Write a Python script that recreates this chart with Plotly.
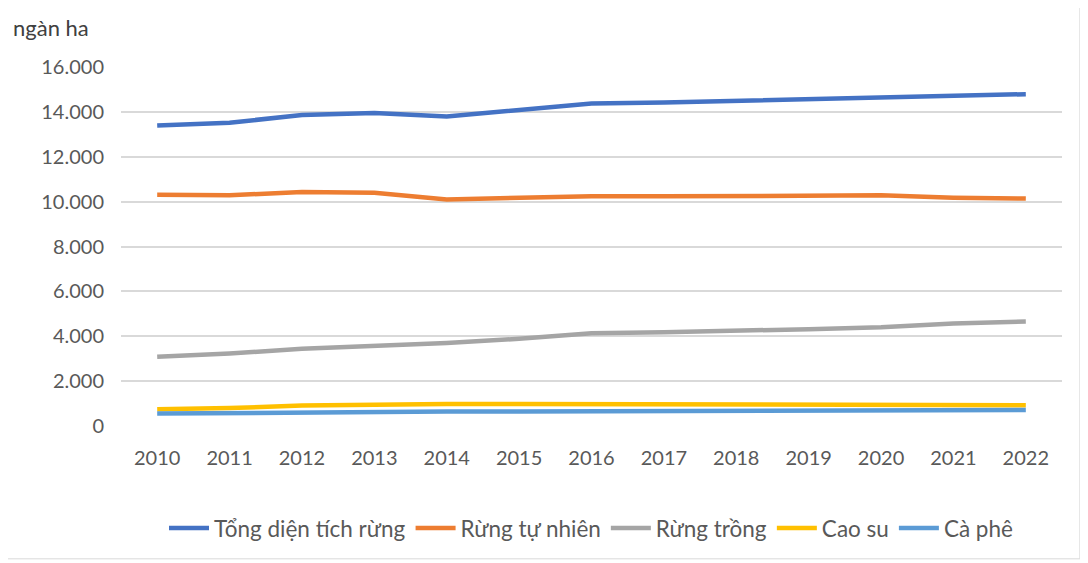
import plotly.graph_objects as go

years = ["2010", "2011", "2012", "2013", "2014", "2015", "2016", "2017", "2018", "2019", "2020", "2021", "2022"]
tong = [13388, 13515, 13862, 13954, 13797, 14062, 14377, 14416, 14491, 14609, 14677, 14745, 14790]
tu_nhien = [10305, 10286, 10424, 10398, 10100, 10175, 10242, 10236, 10256, 10292, 10279, 10172, 10134]
rung_trong = [3083, 3229, 3438, 3556, 3697, 3887, 4135, 4180, 4235, 4317, 4398, 4573, 4656]
cao_su = [748, 801, 910, 958, 978, 985, 973, 972, 962, 940, 933, 930, 920]
ca_phe = [555, 586, 623, 637, 641, 643, 650, 665, 688, 695, 710, 710, 713]

series = [
    ("Tổng diện tích rừng", tong, "#4472C4"),
    ("Rừng tự nhiên", tu_nhien, "#ED7D31"),
    ("Rừng trồng", rung_trong, "#A5A5A5"),
    ("Cao su", cao_su, "#FFC000"),
    ("Cà phê", ca_phe, "#5B9BD5"),
]

fig = go.Figure()
for name, vals, color in series:
    fig.add_trace(go.Scatter(x=years, y=vals, name=name, mode="lines",
                             line=dict(color=color, width=4.5)))

font_family = "Lato, 'Open Sans', sans-serif"
fig.update_layout(
    width=1088, height=563,
    margin=dict(l=113, r=34, t=59, b=145),
    paper_bgcolor="white", plot_bgcolor="white",
    separators=",.",
    font=dict(family=font_family, size=20, color="#595959"),
    showlegend=True,
    legend=dict(orientation="h", x=0.5, xanchor="center", y=-0.285, yanchor="middle",
                font=dict(size=22.5, color="#595959"), itemwidth=40, tracegroupgap=0),
    xaxis=dict(type="category", range=[-0.5, 12.5], showgrid=False, showline=False,
               ticks="", tickfont=dict(size=20, color="#595959"), zeroline=False,
               ticklabelstandoff=18),
    yaxis=dict(range=[0, 16000], dtick=2000, tickformat=",d", showgrid=True,
               gridcolor="#D9D9D9", gridwidth=1.5, zeroline=False, showline=False,
               ticks="", tickfont=dict(size=20, color="#595959"), ticklabelstandoff=16),
    annotations=[dict(text="ngàn ha", xref="paper", yref="paper", x=-0.117, y=1.11,
                      xanchor="left", yanchor="middle", showarrow=False,
                      font=dict(size=22, color="#404040", family=font_family))],
    shapes=[dict(type="rect", xref="paper", yref="paper", x0=-0.1211, x1=1.019,
                 y0=-0.37, y1=1.17, line=dict(color="#D9D9D9", width=1), layer="below")],
)

fig.write_html("out.html")
